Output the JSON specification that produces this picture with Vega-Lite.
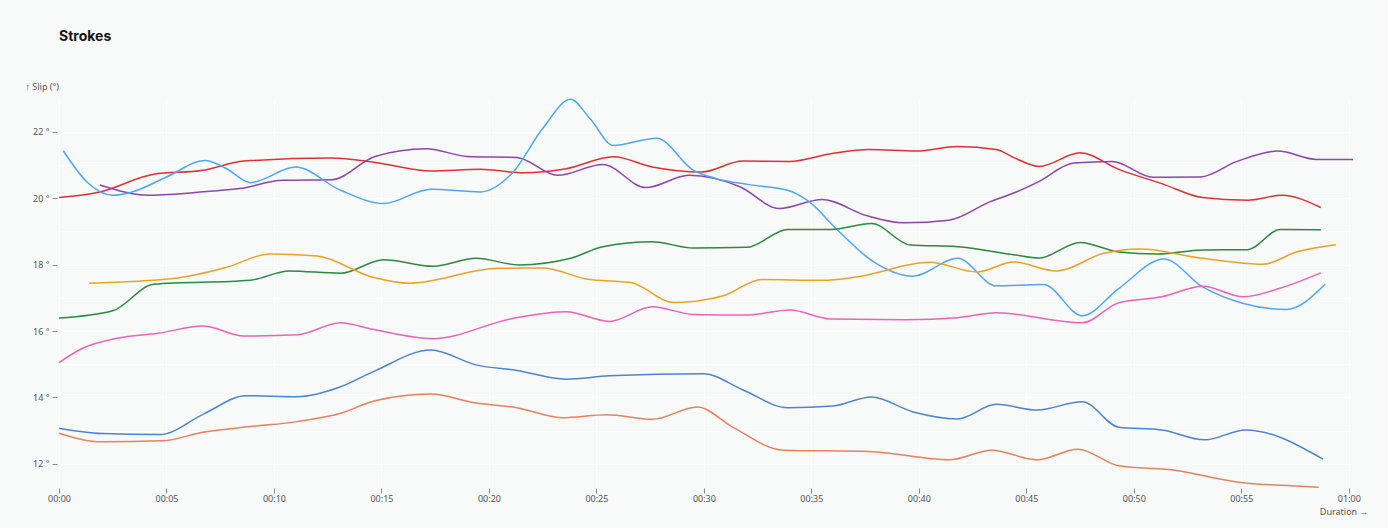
{
  "$schema": "https://vega.github.io/schema/vega-lite/v6.json",
  "autosize": {"type": "none"},
  "padding": {"left": 59, "top": 99, "right": 36, "bottom": 40},
  "width": 1293,
  "height": 389,
  "background": "#f8f9f9",
  "title": {
    "text": "Strokes",
    "anchor": "start",
    "frame": "group",
    "fontSize": 14,
    "fontWeight": 700,
    "font": "Inter",
    "color": "#141414",
    "offset": 38
  },
  "data": {
    "values": [
      {"s": "A", "t": 0, "v": 20.02}, {"s": "A", "t": 1.9, "v": 20.19}, {"s": "A", "t": 4.4, "v": 20.72}, {"s": "A", "t": 6.7, "v": 20.84},
      {"s": "A", "t": 8.6, "v": 21.12}, {"s": "A", "t": 12.7, "v": 21.21}, {"s": "A", "t": 14.7, "v": 21.08}, {"s": "A", "t": 17.3, "v": 20.82},
      {"s": "A", "t": 19.6, "v": 20.87}, {"s": "A", "t": 21.6, "v": 20.77}, {"s": "A", "t": 23.6, "v": 20.89}, {"s": "A", "t": 25.8, "v": 21.25},
      {"s": "A", "t": 27.6, "v": 20.94}, {"s": "A", "t": 29.9, "v": 20.79}, {"s": "A", "t": 31.8, "v": 21.12}, {"s": "A", "t": 34.0, "v": 21.11},
      {"s": "A", "t": 35.9, "v": 21.34}, {"s": "A", "t": 37.7, "v": 21.47}, {"s": "A", "t": 39.9, "v": 21.42}, {"s": "A", "t": 41.8, "v": 21.56},
      {"s": "A", "t": 43.6, "v": 21.47}, {"s": "A", "t": 44.5, "v": 21.2}, {"s": "A", "t": 45.6, "v": 20.96}, {"s": "A", "t": 47.5, "v": 21.37},
      {"s": "A", "t": 49.3, "v": 20.87}, {"s": "A", "t": 51.3, "v": 20.44}, {"s": "A", "t": 53.2, "v": 20.02}, {"s": "A", "t": 55.3, "v": 19.94},
      {"s": "A", "t": 56.9, "v": 20.09}, {"s": "A", "t": 58.7, "v": 19.72},

      {"s": "B", "t": 1.9, "v": 20.4}, {"s": "B", "t": 4.2, "v": 20.09}, {"s": "B", "t": 7.0, "v": 20.21}, {"s": "B", "t": 8.4, "v": 20.29},
      {"s": "B", "t": 10.4, "v": 20.54}, {"s": "B", "t": 12.7, "v": 20.56}, {"s": "B", "t": 14.7, "v": 21.26}, {"s": "B", "t": 17.1, "v": 21.49},
      {"s": "B", "t": 19.0, "v": 21.26}, {"s": "B", "t": 21.3, "v": 21.23}, {"s": "B", "t": 23.2, "v": 20.69}, {"s": "B", "t": 25.3, "v": 21.02},
      {"s": "B", "t": 27.3, "v": 20.32}, {"s": "B", "t": 29.3, "v": 20.69}, {"s": "B", "t": 31.7, "v": 20.34}, {"s": "B", "t": 33.5, "v": 19.69},
      {"s": "B", "t": 35.5, "v": 19.96}, {"s": "B", "t": 37.6, "v": 19.47}, {"s": "B", "t": 39.3, "v": 19.26}, {"s": "B", "t": 41.4, "v": 19.34},
      {"s": "B", "t": 43.3, "v": 19.89}, {"s": "B", "t": 44.5, "v": 20.18}, {"s": "B", "t": 45.6, "v": 20.51}, {"s": "B", "t": 47.2, "v": 21.06},
      {"s": "B", "t": 49.0, "v": 21.11}, {"s": "B", "t": 50.9, "v": 20.63}, {"s": "B", "t": 53.1, "v": 20.64}, {"s": "B", "t": 54.8, "v": 21.11},
      {"s": "B", "t": 56.7, "v": 21.42}, {"s": "B", "t": 58.5, "v": 21.17}, {"s": "B", "t": 60.2, "v": 21.17},

      {"s": "C", "t": 0.2, "v": 21.43}, {"s": "C", "t": 1.3, "v": 20.49}, {"s": "C", "t": 2.5, "v": 20.09}, {"s": "C", "t": 3.4, "v": 20.19},
      {"s": "C", "t": 5.0, "v": 20.64}, {"s": "C", "t": 6.8, "v": 21.14}, {"s": "C", "t": 7.8, "v": 20.89}, {"s": "C", "t": 8.9, "v": 20.47},
      {"s": "C", "t": 11.0, "v": 20.94}, {"s": "C", "t": 13.1, "v": 20.24}, {"s": "C", "t": 15.1, "v": 19.84}, {"s": "C", "t": 17.3, "v": 20.27},
      {"s": "C", "t": 19.6, "v": 20.19}, {"s": "C", "t": 21.1, "v": 20.77}, {"s": "C", "t": 22.5, "v": 22.1}, {"s": "C", "t": 23.8, "v": 22.98},
      {"s": "C", "t": 24.7, "v": 22.4}, {"s": "C", "t": 25.8, "v": 21.59}, {"s": "C", "t": 27.8, "v": 21.81}, {"s": "C", "t": 29.5, "v": 20.85},
      {"s": "C", "t": 30.6, "v": 20.59}, {"s": "C", "t": 32.1, "v": 20.41}, {"s": "C", "t": 33.9, "v": 20.24}, {"s": "C", "t": 34.8, "v": 19.94},
      {"s": "C", "t": 36.3, "v": 18.99}, {"s": "C", "t": 37.9, "v": 18.08}, {"s": "C", "t": 39.7, "v": 17.65}, {"s": "C", "t": 41.8, "v": 18.19},
      {"s": "C", "t": 43.6, "v": 17.36}, {"s": "C", "t": 45.8, "v": 17.4}, {"s": "C", "t": 47.6, "v": 16.46}, {"s": "C", "t": 49.3, "v": 17.28},
      {"s": "C", "t": 51.4, "v": 18.17}, {"s": "C", "t": 53.2, "v": 17.33}, {"s": "C", "t": 55.1, "v": 16.83}, {"s": "C", "t": 57.1, "v": 16.65},
      {"s": "C", "t": 58.9, "v": 17.41},

      {"s": "D", "t": 0, "v": 16.39}, {"s": "D", "t": 2.5, "v": 16.61}, {"s": "D", "t": 4.4, "v": 17.41}, {"s": "D", "t": 8.9, "v": 17.53},
      {"s": "D", "t": 10.7, "v": 17.81}, {"s": "D", "t": 13.1, "v": 17.74}, {"s": "D", "t": 15.1, "v": 18.15}, {"s": "D", "t": 17.4, "v": 17.95},
      {"s": "D", "t": 19.4, "v": 18.19}, {"s": "D", "t": 21.4, "v": 17.99}, {"s": "D", "t": 23.8, "v": 18.19}, {"s": "D", "t": 25.3, "v": 18.54},
      {"s": "D", "t": 27.6, "v": 18.69}, {"s": "D", "t": 29.5, "v": 18.5}, {"s": "D", "t": 32.0, "v": 18.52}, {"s": "D", "t": 33.9, "v": 19.06},
      {"s": "D", "t": 35.9, "v": 19.06}, {"s": "D", "t": 37.8, "v": 19.24}, {"s": "D", "t": 39.6, "v": 18.59}, {"s": "D", "t": 41.8, "v": 18.54},
      {"s": "D", "t": 44.4, "v": 18.3}, {"s": "D", "t": 45.6, "v": 18.2}, {"s": "D", "t": 47.5, "v": 18.67}, {"s": "D", "t": 49.3, "v": 18.38},
      {"s": "D", "t": 51.1, "v": 18.32}, {"s": "D", "t": 53.2, "v": 18.44}, {"s": "D", "t": 55.3, "v": 18.45}, {"s": "D", "t": 56.8, "v": 19.06},
      {"s": "D", "t": 58.7, "v": 19.05},

      {"s": "E", "t": 1.4, "v": 17.44}, {"s": "E", "t": 5.3, "v": 17.58}, {"s": "E", "t": 7.8, "v": 17.92}, {"s": "E", "t": 9.8, "v": 18.32},
      {"s": "E", "t": 12.0, "v": 18.26}, {"s": "E", "t": 14.6, "v": 17.62}, {"s": "E", "t": 16.3, "v": 17.44}, {"s": "E", "t": 20.4, "v": 17.89},
      {"s": "E", "t": 22.5, "v": 17.9}, {"s": "E", "t": 24.6, "v": 17.56}, {"s": "E", "t": 26.6, "v": 17.46}, {"s": "E", "t": 28.6, "v": 16.86},
      {"s": "E", "t": 29.6, "v": 16.9}, {"s": "E", "t": 30.9, "v": 17.06}, {"s": "E", "t": 32.7, "v": 17.55}, {"s": "E", "t": 35.5, "v": 17.53},
      {"s": "E", "t": 37.1, "v": 17.63}, {"s": "E", "t": 40.5, "v": 18.07}, {"s": "E", "t": 42.7, "v": 17.78}, {"s": "E", "t": 44.4, "v": 18.08},
      {"s": "E", "t": 46.4, "v": 17.81}, {"s": "E", "t": 48.6, "v": 18.34}, {"s": "E", "t": 50.3, "v": 18.47}, {"s": "E", "t": 53.2, "v": 18.19},
      {"s": "E", "t": 56.0, "v": 18.01}, {"s": "E", "t": 57.6, "v": 18.39}, {"s": "E", "t": 59.4, "v": 18.6},

      {"s": "F", "t": 0, "v": 15.05}, {"s": "F", "t": 1.1, "v": 15.48}, {"s": "F", "t": 2.7, "v": 15.78}, {"s": "F", "t": 4.6, "v": 15.93},
      {"s": "F", "t": 6.7, "v": 16.15}, {"s": "F", "t": 8.6, "v": 15.85}, {"s": "F", "t": 11.1, "v": 15.89}, {"s": "F", "t": 13.1, "v": 16.25},
      {"s": "F", "t": 14.6, "v": 16.05}, {"s": "F", "t": 17.4, "v": 15.77}, {"s": "F", "t": 21.1, "v": 16.38}, {"s": "F", "t": 23.6, "v": 16.58},
      {"s": "F", "t": 25.6, "v": 16.29}, {"s": "F", "t": 27.6, "v": 16.73}, {"s": "F", "t": 29.5, "v": 16.5}, {"s": "F", "t": 32.0, "v": 16.48},
      {"s": "F", "t": 34.0, "v": 16.63}, {"s": "F", "t": 35.9, "v": 16.36}, {"s": "F", "t": 39.4, "v": 16.34}, {"s": "F", "t": 41.8, "v": 16.4},
      {"s": "F", "t": 43.6, "v": 16.55}, {"s": "F", "t": 47.6, "v": 16.25}, {"s": "F", "t": 49.3, "v": 16.85}, {"s": "F", "t": 51.3, "v": 17.03},
      {"s": "F", "t": 53.2, "v": 17.35}, {"s": "F", "t": 55.1, "v": 17.03}, {"s": "F", "t": 56.9, "v": 17.31}, {"s": "F", "t": 58.7, "v": 17.75},

      {"s": "G", "t": 0, "v": 13.07}, {"s": "G", "t": 2.0, "v": 12.91}, {"s": "G", "t": 4.7, "v": 12.88}, {"s": "G", "t": 6.7, "v": 13.49},
      {"s": "G", "t": 8.7, "v": 14.05}, {"s": "G", "t": 11.1, "v": 14.02}, {"s": "G", "t": 13.1, "v": 14.32}, {"s": "G", "t": 14.7, "v": 14.8},
      {"s": "G", "t": 17.3, "v": 15.43}, {"s": "G", "t": 19.4, "v": 14.98}, {"s": "G", "t": 21.3, "v": 14.81}, {"s": "G", "t": 23.6, "v": 14.55},
      {"s": "G", "t": 25.6, "v": 14.65}, {"s": "G", "t": 30.0, "v": 14.71}, {"s": "G", "t": 31.8, "v": 14.23}, {"s": "G", "t": 33.9, "v": 13.69},
      {"s": "G", "t": 36.0, "v": 13.74}, {"s": "G", "t": 37.8, "v": 14.01}, {"s": "G", "t": 39.7, "v": 13.57}, {"s": "G", "t": 41.8, "v": 13.35},
      {"s": "G", "t": 43.6, "v": 13.79}, {"s": "G", "t": 45.5, "v": 13.62}, {"s": "G", "t": 47.6, "v": 13.87}, {"s": "G", "t": 49.3, "v": 13.1},
      {"s": "G", "t": 51.3, "v": 13.02}, {"s": "G", "t": 53.3, "v": 12.72}, {"s": "G", "t": 55.2, "v": 13.02}, {"s": "G", "t": 58.8, "v": 12.14},

      {"s": "H", "t": 0, "v": 12.92}, {"s": "H", "t": 2.0, "v": 12.66}, {"s": "H", "t": 4.8, "v": 12.69}, {"s": "H", "t": 6.7, "v": 12.95},
      {"s": "H", "t": 8.9, "v": 13.12}, {"s": "H", "t": 11.1, "v": 13.27}, {"s": "H", "t": 13.1, "v": 13.52}, {"s": "H", "t": 14.7, "v": 13.9},
      {"s": "H", "t": 17.3, "v": 14.1}, {"s": "H", "t": 19.4, "v": 13.83}, {"s": "H", "t": 21.3, "v": 13.69}, {"s": "H", "t": 23.4, "v": 13.39},
      {"s": "H", "t": 25.5, "v": 13.48}, {"s": "H", "t": 27.6, "v": 13.34}, {"s": "H", "t": 29.7, "v": 13.71}, {"s": "H", "t": 31.3, "v": 13.12},
      {"s": "H", "t": 33.7, "v": 12.41}, {"s": "H", "t": 37.7, "v": 12.37}, {"s": "H", "t": 41.4, "v": 12.12}, {"s": "H", "t": 43.4, "v": 12.41},
      {"s": "H", "t": 45.5, "v": 12.12}, {"s": "H", "t": 47.4, "v": 12.44}, {"s": "H", "t": 49.3, "v": 11.94}, {"s": "H", "t": 52.0, "v": 11.8},
      {"s": "H", "t": 54.0, "v": 11.54}, {"s": "H", "t": 55.2, "v": 11.42}, {"s": "H", "t": 57.3, "v": 11.34}, {"s": "H", "t": 58.6, "v": 11.29}
    ]
  },
  "mark": {"type": "line", "interpolate": "monotone", "strokeWidth": 1.5},
  "encoding": {
    "x": {
      "field": "t",
      "type": "quantitative",
      "scale": {"domain": [0, 60.15], "nice": false, "zero": false},
      "axis": {
        "values": [0, 5, 10, 15, 20, 25, 30, 35, 40, 45, 50, 55, 60],
        "labelExpr": "utcFormat(datum.value * 1000, '%M:%S')",
        "labelFlush": false,
        "title": "Duration →",
        "titleAlign": "right",
        "titleAnchor": null,
        "titleX": 1309,
        "titleY": 23,
        "titleBaseline": "middle",
        "tickSize": 5,
        "labelPadding": 1
      }
    },
    "y": {
      "field": "v",
      "type": "quantitative",
      "scale": {"domain": [11.27, 22.99], "nice": false, "zero": false},
      "axis": {
        "values": [12, 13, 14, 15, 16, 17, 18, 19, 20, 21, 22],
        "labelExpr": "datum.value % 2 == 0 ? datum.value + ' °' : ''",
        "labelOverlap": false,
        "labelFlush": false,
        "tickOpacity": {"condition": {"test": "datum.value % 2 == 0", "value": 1}, "value": 0},
        "tickSize": 5,
        "offset": 2,
        "labelPadding": 3,
        "title": "↑ Slip (°)",
        "titleAngle": 0,
        "titleAlign": "left",
        "titleBaseline": "middle",
        "titleX": -32,
        "titleY": -13
      }
    },
    "color": {
      "field": "s",
      "type": "nominal",
      "legend": null,
      "scale": {
        "domain": ["A", "B", "C", "D", "E", "F", "G", "H"],
        "range": ["#e03131", "#8e44ad", "#4da6ff", "#2b8a3e", "#eea224", "#f062b8", "#4c84d4", "#e8815f"]
      }
    }
  },
  "config": {
    "view": {"stroke": null},
    "axis": {
      "grid": true,
      "gridColor": "#ffffff",
      "gridWidth": 1,
      "domain": false,
      "tickColor": "#8a8a8a",
      "labelFont": "Noto Sans",
      "labelFontSize": 9,
      "labelColor": "#555555",
      "titleFont": "Noto Sans",
      "titleFontSize": 9,
      "titleFontWeight": "normal",
      "titleColor": "#555555"
    }
  }
}
